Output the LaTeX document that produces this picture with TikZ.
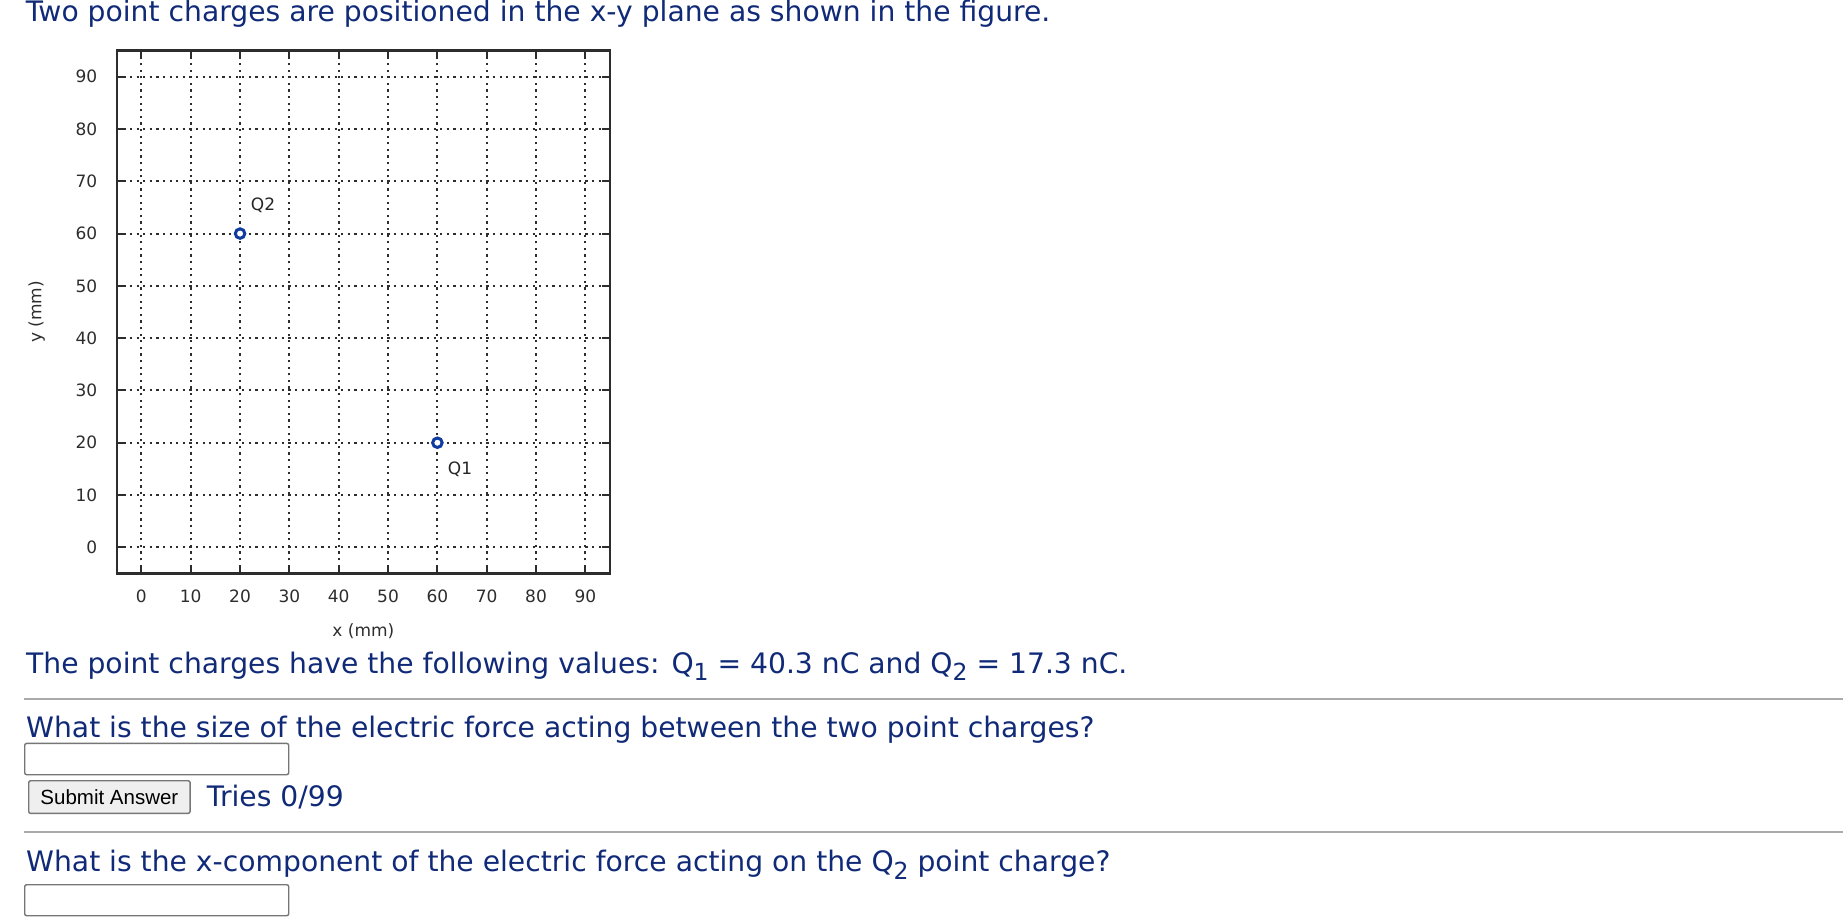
\documentclass[tikz,border=0pt]{standalone}
\usepackage{fontspec}
\setmainfont{DejaVu Sans}
\newfontfamily\arialfont{Liberation Sans}
\definecolor{navytxt}{RGB}{16,42,120}
\definecolor{plotgray}{RGB}{45,45,45}
\definecolor{markblue}{RGB}{16,60,160}
\definecolor{rulegray}{RGB}{170,170,170}
\definecolor{boxgray}{RGB}{118,118,118}
\definecolor{btnfill}{RGB}{239,239,239}
\newcommand{\subd}[1]{\raisebox{-7.5pt}{\fontsize{23.5}{24}\selectfont #1}}
\tikzset{
  txtline/.style={inner sep=0pt, anchor=base west, text=navytxt, font=\fontsize{28.2}{34}\selectfont},
  gridline/.style={draw=plotgray, line width=2pt, dash pattern=on 2.2pt off 4.4pt},
  tickline/.style={draw=plotgray, line width=2pt},
  frameline/.style={draw=plotgray, line width=2.2pt},
  ticklbl/.style={inner sep=0pt, text=plotgray, font=\fontsize{17}{20}\selectfont},
  chargept/.style={circle, draw=markblue, line width=3pt, minimum size=9.5pt, inner sep=0pt, fill=white},
  chargelbl/.style={inner sep=0pt, text=black!85, font=\fontsize{17}{20}\selectfont},
  rulestyle/.style={draw=rulegray, line width=2pt},
  inbox/.style={draw=boxgray, line width=1.4pt, rounded corners=2pt, fill=white, anchor=north west, inner sep=0pt},
  btnbox/.style={draw=boxgray, line width=1.4pt, rounded corners=2pt, fill=btnfill, anchor=north west, inner sep=0pt, font=\arialfont\fontsize{20.5}{24}\selectfont}
}
\begin{document}
\begin{tikzpicture}[x=1pt,y=-1pt]
\useasboundingbox[fill=white] (0,0) rectangle (1843,921);

% ---- plot ----
\begin{scope}[shift={(141.4pt,-547.3pt)}, x=4.933pt, y=5.229pt]
  \foreach \v in {0,10,...,90} {
    \draw[gridline] (\v,-5) -- (\v,95);
    \draw[gridline] (-5,\v) -- (95,\v);
    \draw[tickline] (\v,-5) -- ++(0pt,8pt);
    \draw[tickline] (\v,95) -- ++(0pt,-8pt);
    \draw[tickline] (-5,\v) -- ++(8pt,0pt);
    \draw[tickline] (95,\v) -- ++(-8pt,0pt);
    \node[ticklbl] (xl\v) at ([yshift=-22.6pt]\v,-5) {\v};
    \node[ticklbl, anchor=east] (yl\v) at ([xshift=-19.3pt]-5,\v) {\v};
  }
  \draw[frameline] (-5,-5) rectangle (95,95);
  \node[ticklbl] (xlabel) at ([yshift=-57.5pt]45,-5) {x (mm)};
  \node[ticklbl, rotate=90] (ylabel) at ([xshift=-80pt]-5,45) {y (mm)};
  \node[chargept] (q1) at (60,20) {};
  \node[chargept] (q2) at (20,60) {};
  \node[chargelbl] (q1lbl) at (64.6,15) {Q1};
  \node[chargelbl] (q2lbl) at (24.65,65.4) {Q2};
\end{scope}

% ---- text ----
\node[txtline] (title) at (25.7,21) {Two point charges are positioned in the x-y plane as shown in the figure.};
\node[txtline] (values) at (26,673) {The point charges have the following values: Q\subd{1} = 40.3 nC and Q\subd{2} = 17.3 nC.};

\coordinate (r1a) at (24,699);
\coordinate (r1b) at (1843,699);
\draw[rulestyle] (r1a) -- (r1b);

\node[txtline] (ques1) at (26,737.5) {What is the size of the electric force acting between the two point charges?};
\node[inbox, minimum width=264pt, minimum height=31.3pt] (box1) at (24,742.7) {};
\node[btnbox, minimum width=161.4pt, minimum height=32.7pt] (submit) at (28,780) {Submit Answer};
\node[txtline] (tries) at (206.7,806) {Tries 0/99};

\coordinate (r2a) at (24,831.7);
\coordinate (r2b) at (1843,831.7);
\draw[rulestyle] (r2a) -- (r2b);

\node[txtline] (ques2) at (26,871.5) {What is the x-component of the electric force acting on the Q\subd{2} point charge?};
\node[inbox, minimum width=264pt, minimum height=31pt] (box2) at (24,884) {};
\end{tikzpicture}
\end{document}
